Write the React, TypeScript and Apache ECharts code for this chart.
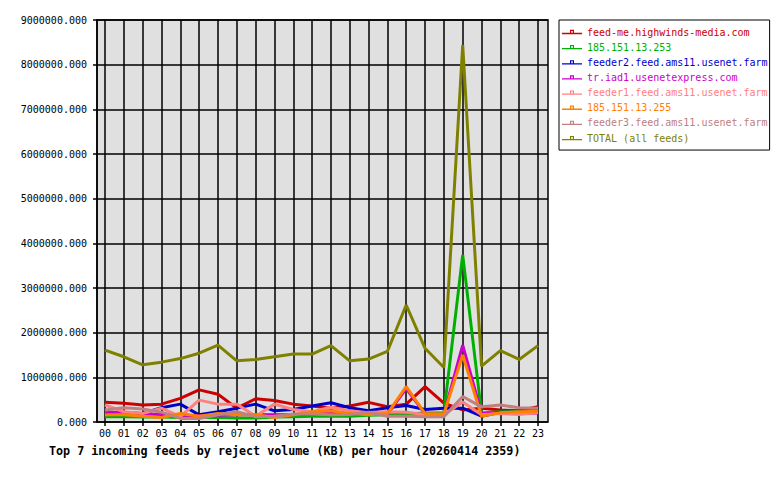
import React, { useEffect, useRef } from "react";
import * as echarts from "echarts";

const hours = ["00","01","02","03","04","05","06","07","08","09","10","11","12","13","14","15","16","17","18","19","20","21","22","23"];

const feedNames = [
  "feed-me.highwinds-media.com",
  "185.151.13.253",
  "feeder2.feed.ams11.usenet.farm",
  "tr.iad1.usenetexpress.com",
  "feeder1.feed.ams11.usenet.farm",
  "185.151.13.255",
  "feeder3.feed.ams11.usenet.farm",
  "TOTAL (all feeds)",
];

const feedColors = ["#cc0000", "#00b000", "#0000cc", "#cc00cc", "#ff8080", "#ff8000", "#c08080", "#808000"];

const highwinds = [440000, 420000, 380000, 400000, 530000, 720000, 620000, 310000, 520000, 480000, 400000, 360000, 310000, 360000, 440000, 340000, 400000, 790000, 420000, 270000, 310000, 270000, 250000, 340000];
const ip253 = [120000, 120000, 110000, 110000, 100000, 100000, 100000, 90000, 90000, 110000, 120000, 130000, 130000, 130000, 150000, 160000, 180000, 200000, 200000, 3740000, 200000, 230000, 240000, 250000];
const feeder2 = [210000, 210000, 190000, 320000, 400000, 160000, 230000, 310000, 400000, 250000, 280000, 360000, 430000, 320000, 250000, 320000, 370000, 280000, 310000, 310000, 130000, 220000, 220000, 250000];
const iad1 = [230000, 200000, 180000, 170000, 150000, 140000, 150000, 160000, 170000, 160000, 170000, 180000, 190000, 180000, 170000, 170000, 750000, 180000, 170000, 1720000, 190000, 200000, 190000, 200000];
const feeder1 = [380000, 230000, 190000, 310000, 120000, 490000, 400000, 400000, 130000, 400000, 280000, 230000, 330000, 250000, 210000, 230000, 220000, 170000, 160000, 450000, 160000, 190000, 170000, 210000];
const ip255 = [160000, 160000, 130000, 100000, 190000, 130000, 190000, 160000, 160000, 100000, 160000, 230000, 250000, 190000, 160000, 190000, 790000, 190000, 180000, 1500000, 130000, 210000, 230000, 240000];
const feeder3 = [270000, 320000, 290000, 220000, 80000, 80000, 160000, 230000, 120000, 130000, 180000, 180000, 160000, 170000, 220000, 130000, 130000, 120000, 120000, 570000, 340000, 380000, 320000, 310000];
const total = [1610000, 1460000, 1280000, 1340000, 1420000, 1540000, 1720000, 1370000, 1400000, 1460000, 1520000, 1520000, 1710000, 1370000, 1410000, 1580000, 2620000, 1650000, 1220000, 8440000, 1250000, 1600000, 1400000, 1710000];

const feedValues = [highwinds, ip253, feeder2, iad1, feeder1, ip255, feeder3, total];

const yTicks = { min: 0, max: 9000000, interval: 1000000 };

const titleText = "Top 7 incoming feeds by reject volume (KB) per hour (20260414 2359)";

const mono = "DejaVu Sans Mono";

const legendIcon = "path://M0,6h8v-3h4v3h8v1.3h-20z M9.2,4.1v1.9h1.6v-1.9z";

export default function App() {
  const ref = useRef<HTMLDivElement>(null);
  useEffect(() => {
    if (!ref.current) return;
    const chart = echarts.init(ref.current, null, { renderer: "svg" });
    chart.setOption({
      animation: false,
      backgroundColor: "#ffffff",
      title: {
        text: titleText,
        left: 49,
        top: 445,
        padding: 0,
        textStyle: { fontFamily: mono, fontSize: 11.7, fontWeight: "bold", color: "#000" },
      },
      legend: {
        orient: "vertical",
        left: 559,
        top: 20,
        padding: [7, 2, 7, 3],
        borderColor: "#000",
        borderWidth: 1,
        itemWidth: 20,
        itemHeight: 10,
        itemGap: 5.15,
        itemTextGap: 4,
        icon: legendIcon,
        selectedMode: false,
        textStyle: { fontFamily: mono, fontSize: 10, lineHeight: 10 },
        data: feedNames.map((n, i) => ({ name: n, textStyle: { color: feedColors[i] } })),
      },
      grid: [
        {
          left: 97, right: 232, top: 20, bottom: 58,
          show: true, backgroundColor: "#e0e0e0", borderColor: "#000", borderWidth: 1.5,
        },
        { left: 105, right: 242, top: 20, bottom: 58 },
      ],
      xAxis: [
        { type: "category", gridIndex: 0, data: hours, show: false },
        {
          type: "category",
          gridIndex: 1,
          data: hours,
          boundaryGap: false,
          axisLine: { show: false },
          axisTick: { show: true, length: 4, lineStyle: { color: "#000", width: 1.5 } },
          splitLine: { show: true, lineStyle: { color: "#000", width: 1.5 } },
          axisLabel: { interval: 0, margin: 6, fontFamily: mono, fontSize: 10, color: "#000" },
        },
      ],
      yAxis: [
        {
          type: "value",
          gridIndex: 0,
          min: yTicks.min,
          max: yTicks.max,
          interval: yTicks.interval,
          axisLine: { show: true, lineStyle: { color: "#000", width: 1.5 } },
          axisTick: { show: true, length: 4, lineStyle: { color: "#000", width: 1.5 } },
          splitLine: { show: true, lineStyle: { color: "#000", width: 1.5 } },
          axisLabel: {
            margin: 10,
            fontFamily: mono,
            fontSize: 10,
            color: "#000",
            formatter: (v: number) => v.toFixed(3),
          },
        },
        { type: "value", gridIndex: 1, min: yTicks.min, max: yTicks.max, interval: yTicks.interval, show: false, splitLine: { show: false } },
      ],
      series: feedNames.map((n, i) => ({
        name: n,
        type: "line",
        xAxisIndex: 1,
        yAxisIndex: 1,
        data: feedValues[i],
        showSymbol: false,
        symbol: "none",
        lineStyle: { color: feedColors[i], width: 3 },
        itemStyle: { color: feedColors[i] },
        emphasis: { disabled: true },
      })),
    });
    return () => chart.dispose();
  }, []);
  return <div ref={ref} style={{ width: 780, height: 480, position: "absolute", left: 0, top: 0 }} />;
}
